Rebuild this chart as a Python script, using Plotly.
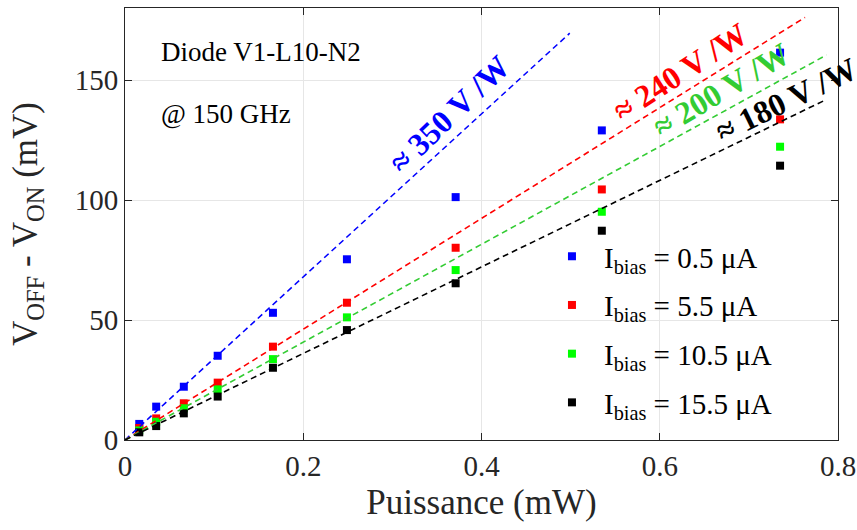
import plotly.graph_objects as go

# ---- data ----
puissance_mw = [0.016, 0.035, 0.066, 0.104, 0.166, 0.249, 0.371, 0.535, 0.735]
v_05 = [6.7, 13.9, 22.2, 35.1, 53.0, 75.3, 101.2, 129.0, 161.4]
v_55 = [5.0, 9.0, 15.3, 23.9, 38.9, 57.2, 80.1, 104.4, 133.6]
v_105 = [4.0, 7.6, 13.2, 21.1, 33.7, 51.1, 70.8, 95.1, 122.2]
v_155 = [3.2, 5.8, 11.1, 18.1, 30.1, 45.8, 65.3, 87.2, 114.3]
series_labels = ["I<sub>bias</sub> = 0.5 μA", "I<sub>bias</sub> = 5.5 μA",
                 "I<sub>bias</sub> = 10.5 μA", "I<sub>bias</sub> = 15.5 μA"]
marker_colors = ["#0000FF", "#FF0000", "#00FF00", "#000000"]

# fitted lines (from origin to end point)
fit_x_end = [0.499, 0.763, 0.787, 0.786]
fit_y_end = [169.5, 176.1, 160.4, 141.7]
fit_colors = ["#0000FF", "#FF0000", "#33CC33", "#000000"]
fit_labels = ["≈ 350 V /W", "≈ 240 V /W", "≈ 200 V /W", "≈ 180 V /W"]
fit_label_x = [0.364, 0.623, 0.669, 0.742]
fit_label_y = [135.8, 153.3, 145.8, 141.7]
fit_label_angle = [-44, -33, -31, -26]

x_ticks = [0, 0.2, 0.4, 0.6, 0.8]
x_ticktext = ["0", "0.2", "0.4", "0.6", "0.8"]
y_ticks = [0, 50, 100, 150]

FONT = "Liberation Serif, Times New Roman, serif"
AX = "#262626"

fig = go.Figure()

for i, (ys, lab, col) in enumerate(zip([v_05, v_55, v_105, v_155], series_labels, marker_colors)):
    fig.add_trace(go.Scatter(
        x=puissance_mw, y=ys, mode="markers", name=lab, legendgroup="g%d" % i,
        marker=dict(symbol="square", size=8, color=col, line=dict(width=0)),
    ))

for xe, ye, col in zip(fit_x_end, fit_y_end, fit_colors):
    fig.add_trace(go.Scatter(
        x=[0, xe], y=[0, ye], mode="lines", showlegend=False,
        line=dict(color=col, width=1.6, dash="6px,4px"),
    ))

annotations = [
    dict(x=0.038, y=161.7, xref="x", yref="y", text="Diode V1-L10-N2",
         showarrow=False, xanchor="left", yanchor="middle",
         font=dict(family=FONT, size=27, color="#000000")),
    dict(x=0.038, y=136.0, xref="x", yref="y", text="@ 150 GHz",
         showarrow=False, xanchor="left", yanchor="middle",
         font=dict(family=FONT, size=27, color="#000000")),
]
for lx, ly, lt, la, col in zip(fit_label_x, fit_label_y, fit_labels, fit_label_angle, fit_colors):
    annotations.append(dict(
        x=lx, y=ly, xref="x", yref="y", text="<b>" + lt + "</b>",
        showarrow=False, textangle=la, xanchor="center", yanchor="middle",
        font=dict(family=FONT, size=32, color=col)))

fig.update_layout(
    width=857, height=530,
    margin=dict(l=125, r=19, t=8, b=90, autoexpand=False),
    paper_bgcolor="white", plot_bgcolor="white",
    font=dict(family=FONT, color=AX),
    showlegend=True,
    legend=dict(x=0.582, y=0.484, xanchor="left", yanchor="top",
                bgcolor="rgba(0,0,0,0)", borderwidth=0, itemwidth=54,
                font=dict(family=FONT, size=29, color="#000000"),
                tracegroupgap=8),
    annotations=annotations,
    xaxis=dict(range=[0, 0.8], tickvals=x_ticks, ticktext=x_ticktext,
               showline=True, mirror="ticks", linecolor=AX, linewidth=1,
               ticks="inside", ticklen=7, tickcolor=AX, automargin=False,
               showgrid=True, gridcolor="#E6E6E6", gridwidth=1, zeroline=False,
               tickfont=dict(family=FONT, size=29, color=AX),
               title=dict(text="Puissance (mW)", font=dict(family=FONT, size=35, color=AX),
                          standoff=8)),
    yaxis=dict(range=[0, 180], tickvals=y_ticks,
               showline=True, mirror="ticks", linecolor=AX, linewidth=1,
               ticks="inside", ticklen=7, tickcolor=AX, automargin=False,
               showgrid=True, gridcolor="#E6E6E6", gridwidth=1, zeroline=False,
               tickfont=dict(family=FONT, size=29, color=AX),
               title=dict(text="V<sub>OFF</sub> - V<sub>ON</sub> (mV)",
                          font=dict(family=FONT, size=35, color=AX), standoff=26)),
)

# remove the default 8px page margin so the figure fills the window exactly
fig.write_html("out.html",
               config={"displayModeBar": False},
               post_script="document.body.style.margin='0';document.body.style.overflow='hidden';")
